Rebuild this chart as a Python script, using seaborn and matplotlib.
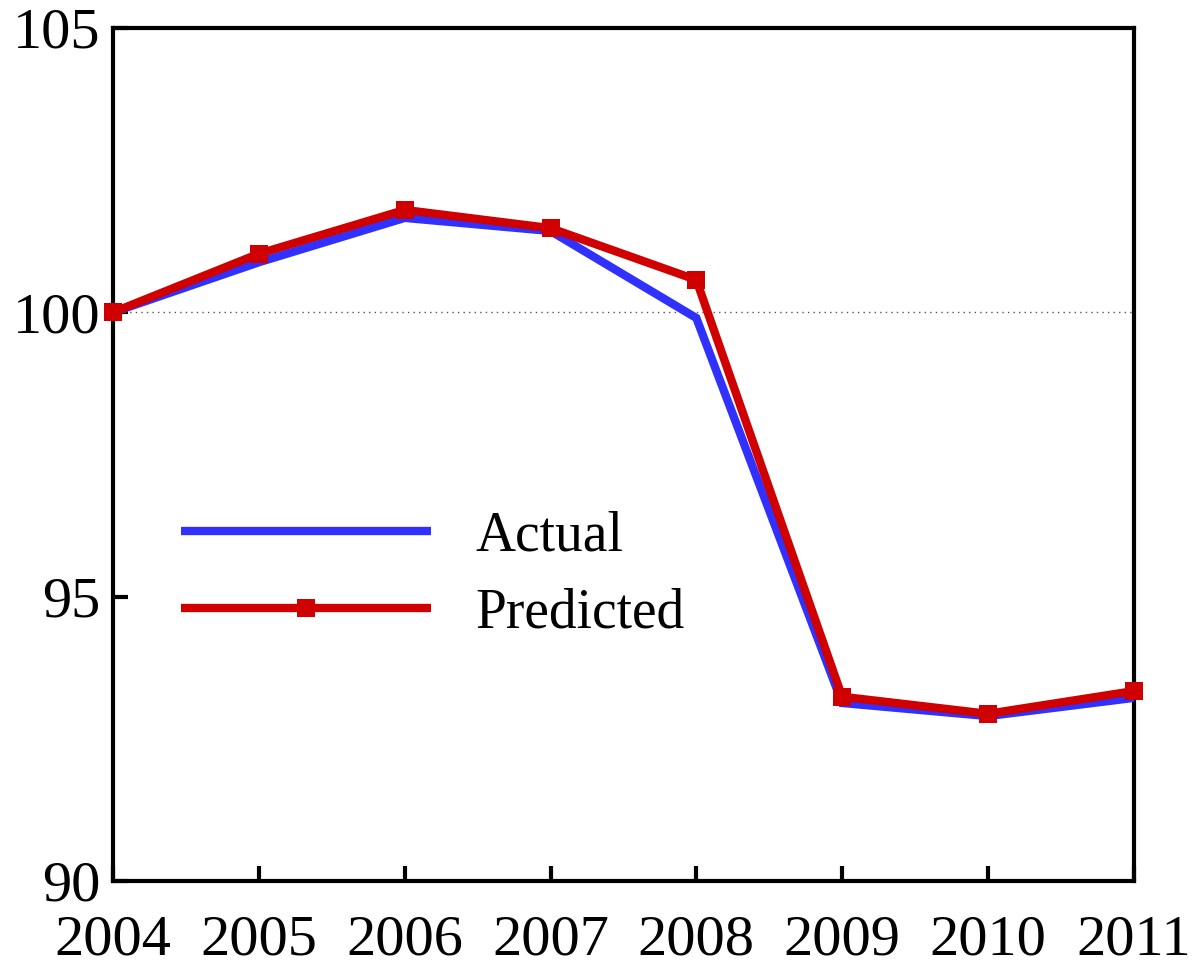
import matplotlib
matplotlib.use("Agg")
import matplotlib.pyplot as plt
import seaborn as sns
import pandas as pd

years = [2004, 2005, 2006, 2007, 2008, 2009, 2010, 2011]
actual = [100.0, 100.88, 101.66, 101.43, 99.9, 93.13, 92.9, 93.22]
predicted = [100.0, 101.03, 101.8, 101.48, 100.57, 93.24, 92.94, 93.34]

sns.set_style("white")
plt.rcParams["font.family"] = ["Liberation Serif", "DejaVu Serif"]
plt.rcParams["text.color"] = "black"

df = pd.DataFrame({"year": years, "Actual": actual, "Predicted": predicted})

fig = plt.figure(figsize=(11.96, 9.64), dpi=100)
ax = fig.add_axes([0.0945, 0.0861, 0.8535, 0.8849])

# dotted reference level at 100
ax.axhline(100, color="#555555", lw=1.0, ls=(0, (1, 3)), zorder=1)

sns.lineplot(data=df, x="year", y="Actual", ax=ax, color="#3030ff", lw=6,
             label="Actual", zorder=3, clip_on=False,
             solid_capstyle="butt", solid_joinstyle="miter")
sns.lineplot(data=df, x="year", y="Predicted", ax=ax, color="#d00000", lw=6,
             marker="s", markersize=13, markeredgewidth=0, label="Predicted",
             zorder=4, clip_on=False,
             solid_capstyle="butt", solid_joinstyle="miter")

ax.set_xlim(2004, 2011)
ax.set_ylim(90, 105)
ax.set_xticks(years)
ax.set_xticklabels([str(y) for y in years])
ax.set_yticks([90, 95, 100, 105])
ax.set_xlabel("")
ax.set_ylabel("")

for s in ax.spines.values():
    s.set_linewidth(3)
    s.set_color("black")

ax.tick_params(axis="both", direction="in", length=11, width=3,
               labelsize=42, colors="black", labelcolor="black",
               bottom=True, left=True, top=False, right=False)
ax.tick_params(axis="x", pad=24)
ax.tick_params(axis="y", pad=9)

leg = ax.legend(loc="upper left", bbox_to_anchor=(0.045, 0.46), frameon=False,
                fontsize=40, handlelength=4.5, handletextpad=0.8,
                labelspacing=0.45, borderaxespad=0)
for t in leg.get_texts():
    t.set_color("black")

fig.savefig("out.png", dpi=100)
